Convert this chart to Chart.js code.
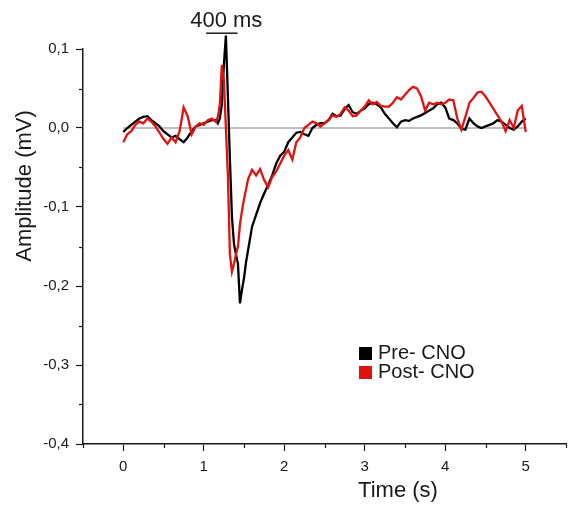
<!DOCTYPE html>
<html>
<head>
<meta charset="utf-8">
<script src="https://cdn.jsdelivr.net/npm/chart.js@4.4.0/dist/chart.umd.min.js"></script>
<style>
  html, body { margin: 0; padding: 0; background: #fff; }
</style>
</head>
<body>
<canvas id="lfpChart" width="573" height="506"></canvas>
<script>
// time points (s) - finer around the evoked response
const time = [
  0, 0.05, 0.1, 0.15, 0.2, 0.25, 0.3, 0.35, 0.4, 0.45, 0.5, 0.55, 0.6, 0.65, 0.7, 0.75, 0.8, 0.85, 0.9, 0.95, 1.0, 1.05, 1.1, 1.15,
  1.175, 1.2, 1.225, 1.25, 1.275, 1.3, 1.325, 1.35, 1.375, 1.4, 1.425, 1.45, 1.475, 1.5, 1.525, 1.55,
  1.6, 1.65, 1.7, 1.75, 1.8, 1.85, 1.9, 1.95, 2.0, 2.05, 2.1, 2.15, 2.2, 2.25, 2.3, 2.35, 2.4, 2.45, 2.5, 2.55, 2.6, 2.65,
  2.7, 2.75, 2.8, 2.85, 2.9, 2.95, 3.0, 3.05, 3.1, 3.15, 3.2, 3.25, 3.3, 3.35, 3.4, 3.45, 3.5, 3.55, 3.6, 3.65, 3.7, 3.75,
  3.8, 3.85, 3.9, 3.95, 4.0, 4.05, 4.1, 4.15, 4.2, 4.25, 4.3, 4.35, 4.4, 4.45, 4.5, 4.55, 4.6, 4.65, 4.7, 4.75, 4.8, 4.85,
  4.9, 4.95, 5.0
];

// amplitude (mV)
const preCNO = [
  -0.005, 0.000, 0.004, 0.008, 0.012, 0.014, 0.015, 0.010, 0.006, 0.002, -0.004, -0.008, -0.012, -0.010, -0.014, -0.018, -0.012, -0.004, 0.002, 0.004, 0.006, 0.008, 0.010, 0.010,
  0.006, 0.012, 0.030, 0.080, 0.117, 0.040, -0.040, -0.112, -0.146, -0.160, -0.172, -0.222, -0.205, -0.190, -0.170, -0.155,
  -0.125, -0.110, -0.095, -0.083, -0.072, -0.060, -0.045, -0.035, -0.030, -0.018, -0.012, -0.006, -0.005, -0.008, -0.010, 0.000, 0.004, 0.006, 0.006, 0.010, 0.018, 0.015,
  0.016, 0.024, 0.029, 0.020, 0.018, 0.022, 0.025, 0.030, 0.032, 0.030, 0.026, 0.018, 0.012, 0.006, 0.001, 0.008, 0.010, 0.009, 0.012, 0.014, 0.016, 0.019,
  0.022, 0.025, 0.030, 0.032, 0.026, 0.012, 0.010, 0.006, -0.001, -0.002, 0.012, 0.006, 0.002, 0.000, 0.002, 0.004, 0.006, 0.010, 0.008, 0.004, 0.000, -0.002,
  0.002, 0.008, 0.012
];

const postCNO = [
  -0.018, -0.008, -0.004, 0.004, 0.008, 0.006, 0.012, 0.008, 0.002, -0.006, -0.014, -0.020, -0.012, -0.018, -0.004, 0.026, 0.015, -0.008, 0.002, 0.006, 0.004, 0.010, 0.012, 0.008,
  0.014, 0.030, 0.080, 0.060, 0.000, -0.060, -0.160, -0.182, -0.172, -0.160, -0.150, -0.122, -0.105, -0.090, -0.078, -0.065,
  -0.053, -0.060, -0.052, -0.066, -0.075, -0.062, -0.055, -0.045, -0.035, -0.028, -0.040, -0.018, -0.012, 0.000, 0.004, 0.008, 0.006, 0.002, 0.006, 0.010, 0.016, 0.014,
  0.018, 0.026, 0.022, 0.015, 0.016, 0.022, 0.027, 0.035, 0.030, 0.033, 0.028, 0.027, 0.027, 0.032, 0.039, 0.036, 0.042, 0.048, 0.052, 0.050, 0.040, 0.022,
  0.032, 0.030, 0.032, 0.030, 0.032, 0.036, 0.035, 0.012, -0.002, 0.014, 0.032, 0.038, 0.045, 0.046, 0.040, 0.032, 0.024, 0.016, 0.008, -0.004, 0.010, 0.000,
  0.022, 0.028, -0.005
];

const baselineTime = [0, 5];
const baselineLevel = [0, 0];
const scaleBarTime = [1.03, 1.42];
const scaleBarLevel = [0.12, 0.12];
const seriesNames = ['Pre- CNO', 'Post- CNO'];
const seriesColors = ['#000000', '#e3120f'];

const xy = (xs, ys) => xs.map((t, i) => ({ x: t, y: ys[i] }));
const FONT = 'Arial, "Liberation Sans", Helvetica, sans-serif';
const INK = '#1a1a1a';

const isWhole = (v, step) => Math.abs(Math.round(v / step) * step - v) < 1e-6;

const extras = {
  id: 'extras',
  afterDraw(chart) {
    const { ctx, scales: { x, y } } = chart;
    ctx.save();
    // minor ticks
    ctx.strokeStyle = INK;
    ctx.lineWidth = 1.2;
    x.ticks.forEach(t => {
      if (isWhole(t.value, 1)) return;
      const px = Math.round(x.getPixelForValue(t.value)) + 0.5;
      ctx.beginPath(); ctx.moveTo(px, y.bottom); ctx.lineTo(px, y.bottom + 4); ctx.stroke();
    });
    y.ticks.forEach(t => {
      if (isWhole(t.value, 0.1)) return;
      const py = Math.round(y.getPixelForValue(t.value)) + 0.5;
      ctx.beginPath(); ctx.moveTo(x.left - 4, py); ctx.lineTo(x.left, py); ctx.stroke();
    });

    ctx.fillStyle = INK;
    // scale bar label
    ctx.font = '22px ' + FONT;
    ctx.textAlign = 'center';
    ctx.textBaseline = 'alphabetic';
    ctx.fillText('400 ms', x.getPixelForValue(1.28), 27);

    // axis titles
    ctx.fillText('Time (s)', 398, 497);
    ctx.save();
    ctx.translate(31, 186);
    ctx.rotate(-Math.PI / 2);
    ctx.fillText('Amplitude (mV)', 0, 0);
    ctx.restore();

    // legend
    ctx.font = '20px ' + FONT;
    ctx.textAlign = 'left';
    seriesNames.forEach((name, i) => {
      const top = 347 + i * 19;
      ctx.fillStyle = seriesColors[i];
      ctx.fillRect(359, top, 13, 13);
      ctx.fillStyle = INK;
      ctx.fillText(name, 378, top + 12);
    });
    ctx.restore();
  }
};

new Chart(document.getElementById('lfpChart'), {
  type: 'line',
  data: {
    datasets: [
      {
        label: seriesNames[1],
        data: xy(time, postCNO),
        borderColor: seriesColors[1],
        borderWidth: 2.3,
        pointRadius: 0,
        clip: false
      },
      {
        label: seriesNames[0],
        data: xy(time, preCNO),
        borderColor: seriesColors[0],
        borderWidth: 2.3,
        pointRadius: 0,
        clip: false
      },
      {
        label: 'baseline',
        data: xy(baselineTime, baselineLevel),
        borderColor: '#808080',
        borderWidth: 1,
        pointRadius: 0
      },
      {
        label: 'scale',
        data: xy(scaleBarTime, scaleBarLevel),
        borderColor: INK,
        borderWidth: 1.5,
        pointRadius: 0,
        clip: false
      }
    ]
  },
  options: {
    responsive: false,
    animation: false,
    layout: { padding: { top: 49, right: 0, bottom: 0, left: 0 } },
    plugins: { legend: { display: false }, tooltip: { enabled: false } },
    scales: {
      x: {
        type: 'linear',
        min: -0.5,
        max: 5.5,
        afterFit: s => { s.height = 62; },
        border: { color: INK, width: 1.5 },
        grid: {
          drawOnChartArea: false,
          tickLength: 7,
          tickWidth: 1.2,
          tickColor: c => (c.tick && isWhole(c.tick.value, 1) ? INK : 'rgba(0,0,0,0)')
        },
        ticks: {
          stepSize: 0.5,
          padding: 7,
          color: INK,
          font: { family: FONT, size: 15 },
          maxRotation: 0,
          autoSkip: false,
          callback: v => (isWhole(v, 1) && v >= 0 && v <= 5 ? String(Math.round(v)) : '')
        }
      },
      y: {
        min: -0.4,
        max: 0.1,
        afterFit: s => { s.width = 83; },
        border: { color: INK, width: 1.5 },
        grid: {
          drawOnChartArea: false,
          tickLength: 7,
          tickWidth: 1.2,
          tickColor: c => (c.tick && isWhole(c.tick.value, 0.1) ? INK : 'rgba(0,0,0,0)')
        },
        ticks: {
          stepSize: 0.05,
          padding: 7,
          color: INK,
          font: { family: FONT, size: 15 },
          autoSkip: false,
          callback: v => (isWhole(v, 0.1) ? v.toFixed(1).replace('.', ',') : '')
        }
      }
    }
  },
  plugins: [extras]
});
</script>
</body>
</html>
